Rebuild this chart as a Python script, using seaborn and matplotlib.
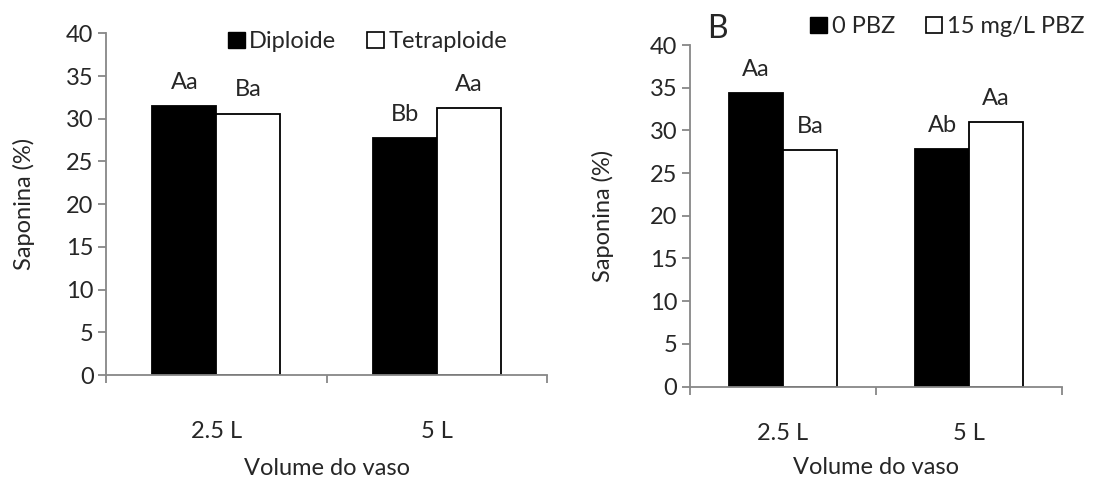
import matplotlib
matplotlib.use("Agg")
import matplotlib.pyplot as plt
from matplotlib.patches import Patch
import seaborn as sns
import pandas as pd

# ---- data ----
volumes = ["2.5 L", "5 L"]
left_series = ["Diploide", "Tetraploide"]
left_diploide = [31.5, 27.7]
left_tetraploide = [30.6, 31.2]
left_letters_diploide = ["Aa", "Bb"]
left_letters_tetraploide = ["Ba", "Aa"]

right_series = ["0 PBZ", "15 mg/L PBZ"]
right_0pbz = [34.4, 27.8]
right_15pbz = [27.7, 31.0]
right_letters_0pbz = ["Aa", "Ab"]
right_letters_15pbz = ["Ba", "Aa"]

yticks = [0, 5, 10, 15, 20, 25, 30, 35, 40]
ylabel = "Saponina (%)"
xlabel = "Volume do vaso"

sns.set_theme(style="white")
plt.rcParams["font.family"] = ["Lato", "DejaVu Sans"]
FS = 17
GRAY = "#878787"

fig = plt.figure(figsize=(10.94, 4.79), dpi=100)
axL = fig.add_axes([0.0969, 0.2171, 0.4034, 0.7134])
axR = fig.add_axes([0.6307, 0.1931, 0.3403, 0.7129])


def draw(ax, series, v1, v2, l1, l2, xlab_y, ylab_x, xpad):
    df = pd.DataFrame({
        "vol": volumes * 2,
        "grp": [series[0]] * 2 + [series[1]] * 2,
        "val": list(v1) + list(v2),
    })
    sns.barplot(data=df, x="vol", y="val", hue="grp", order=volumes,
                hue_order=series, palette=["black", "white"], width=0.58,
                edgecolor="black", linewidth=1.3, errorbar=None, ax=ax,
                legend=False, saturation=1)
    ax.set_xlim(-0.5, 1.5)
    ax.set_ylim(0, 40)
    ax.set_yticks(yticks)
    for s in ["top", "right"]:
        ax.spines[s].set_visible(False)
    for s in ["left", "bottom"]:
        ax.spines[s].set_color(GRAY)
        ax.spines[s].set_linewidth(1.3)
    ax.tick_params(axis="y", which="major", direction="out", length=6,
                   width=1.3, color=GRAY, labelsize=FS, pad=3, left=True)
    ax.set_xticks([0, 1])
    ax.set_xticklabels(volumes)
    ax.set_xticks([-0.5, 0.5, 1.5], minor=True)
    ax.tick_params(axis="x", which="major", length=0, labelsize=FS, pad=xpad)
    ax.tick_params(axis="x", which="minor", direction="out", length=6,
                   width=1.3, color=GRAY, bottom=True)
    ax.set_ylabel(ylabel, fontsize=FS)
    ax.set_xlabel(xlabel, fontsize=FS)
    ax.yaxis.set_label_coords(ylab_x, 0.5)
    ax.xaxis.set_label_coords(0.5, xlab_y)
    letters = list(l1) + list(l2)
    for bar, lab in zip(ax.patches, letters):
        ax.annotate(lab, (bar.get_x() + bar.get_width() / 2, bar.get_height()),
                    xytext=(0, 17), textcoords="offset points",
                    ha="center", va="center", fontsize=FS)
    ax.grid(False)


draw(axL, left_series, left_diploide, left_tetraploide,
     left_letters_diploide, left_letters_tetraploide, -0.244, -0.16, 33)
draw(axR, right_series, right_0pbz, right_15pbz,
     right_letters_0pbz, right_letters_15pbz, -0.207, -0.205, 26)

def handles(series):
    return [Patch(facecolor="black", edgecolor="black", label=series[0]),
            Patch(facecolor="white", edgecolor="black", linewidth=1.2, label=series[1])]

fig.legend(handles=handles(left_series), loc="center", ncol=2,
           bbox_to_anchor=(0.336, 0.913), frameon=False, fontsize=FS,
           handlelength=0.7, handleheight=0.7, handletextpad=0.2,
           columnspacing=1.3, borderaxespad=0, borderpad=0)
fig.legend(handles=handles(right_series), loc="center", ncol=2,
           bbox_to_anchor=(0.866, 0.944), frameon=False, fontsize=FS,
           handlelength=0.7, handleheight=0.7, handletextpad=0.2,
           columnspacing=1.3, borderaxespad=0, borderpad=0)

fig.text(717 / 1094, 1 - 29 / 479, "B", fontsize=23, ha="center", va="center")

fig.savefig("out.png", dpi=100)
